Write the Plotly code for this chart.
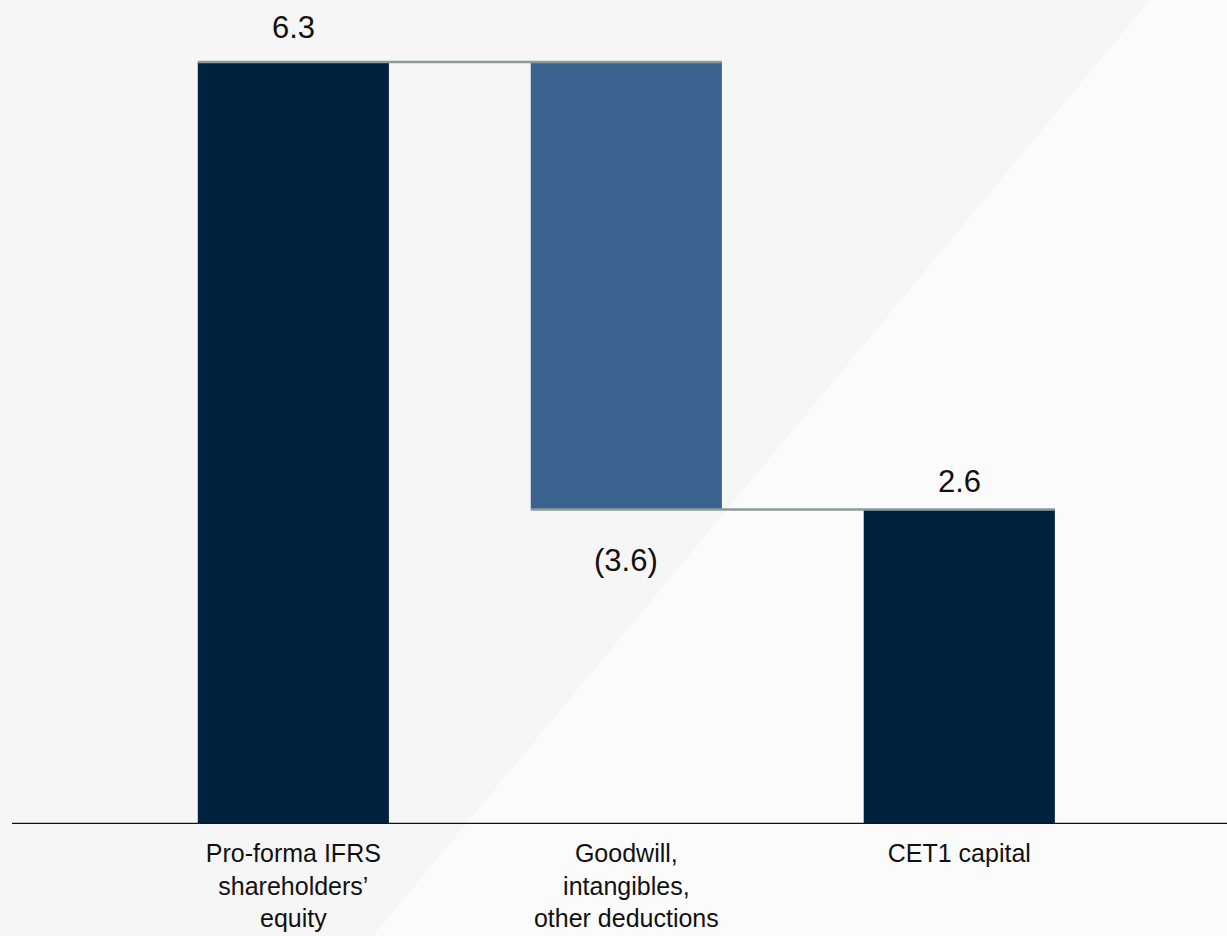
import plotly.graph_objects as go

categories = ["Pro-forma IFRS<br>shareholders’<br>equity",
              "Goodwill,<br>intangibles,<br>other deductions",
              "CET1 capital"]
equity = 6.3
deductions = -3.6
cet1 = 2.6
value_labels = ["6.3", "(3.6)", "2.6"]

dark = "#00223F"
mid = "#3A648F"
conn = "#8C9A9A"
bar_w = 0.574
font_family = "Liberation Sans, Arial, sans-serif"

fig = go.Figure()
# base bars
fig.add_trace(go.Bar(x=[categories[0], categories[2]], y=[equity, cet1],
                     marker=dict(color=dark, line=dict(width=0)), width=bar_w,
                     hoverinfo="skip", showlegend=False))
# floating deduction bar (spans from CET1 level up to equity level)
fig.add_trace(go.Bar(x=[categories[1]], y=[equity - cet1],
                     base=[cet1], marker=dict(color=mid, line=dict(width=0)), width=bar_w,
                     hoverinfo="skip", showlegend=False))

# connectors
fig.add_shape(type="line", xref="x", yref="y", x0=-bar_w/2, x1=1+bar_w/2, y0=equity, y1=equity,
              line=dict(color=conn, width=2.5), layer="above")
fig.add_shape(type="line", xref="x", yref="y", x0=1-bar_w/2, x1=2+bar_w/2, y0=cet1, y1=cet1,
              line=dict(color=conn, width=2.5), layer="above")

# background diagonal
fig.add_shape(type="path", xref="paper", yref="paper",
              path="M 0.9366 1.051 L 1.0 1.051 L 1.0 -0.143 L 0.2971 -0.143 Z",
              fillcolor="#fbfbfb", line=dict(width=0), layer="below")

lab_font = dict(family=font_family, size=31, color="#111111")
fig.add_annotation(x=categories[0], y=equity, text=value_labels[0], showarrow=False,
                   yanchor="middle", yshift=35, font=lab_font)
fig.add_annotation(x=categories[1], y=cet1, text=value_labels[1], showarrow=False,
                   yanchor="middle", yshift=-51, font=lab_font)
fig.add_annotation(x=categories[2], y=cet1, text=value_labels[2], showarrow=False,
                   yanchor="middle", yshift=28, font=lab_font)

fig.update_layout(
    width=1227, height=936,
    margin=dict(l=12, r=0, t=40, b=112),
    paper_bgcolor="#f6f6f6",
    plot_bgcolor="rgba(0,0,0,0)",
    barmode="overlay",
    showlegend=False,
    xaxis=dict(type="category", categoryorder="array", categoryarray=categories,
               range=[-0.845, 2.804], showgrid=False, zeroline=False,
               showline=False, ticks="", ticklabelstandoff=12, automargin=False,
               tickfont=dict(family=font_family, size=25, color="#111111")),
    yaxis=dict(range=[0, 6.482], visible=False, showgrid=False, zeroline=False,
               automargin=False),
)
# axis baseline
fig.add_shape(type="line", xref="paper", yref="y", x0=0, x1=1, y0=0, y1=0,
              line=dict(color="#111111", width=2.5), layer="above")

fig.write_html("out.html", config={"displayModeBar": False},
               post_script="document.body.style.margin='0';document.body.style.overflow='hidden';document.body.style.background='#f6f6f6';")
